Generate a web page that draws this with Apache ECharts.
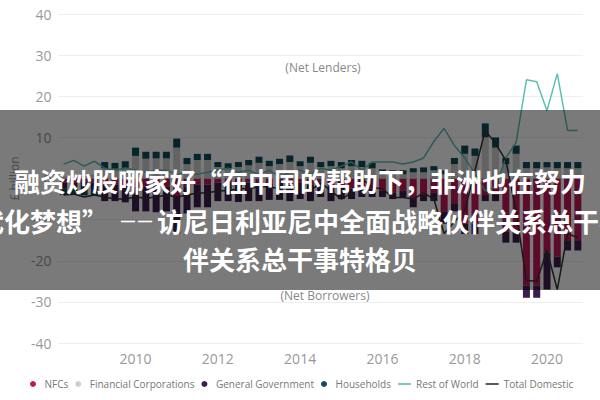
<!DOCTYPE html>
<html><head><meta charset="utf-8">
<script src="https://cdn.jsdelivr.net/npm/echarts@6/dist/echarts.min.js"></script>
<style>
html,body{margin:0;padding:0;background:#fff;}
#wrap{position:relative;width:600px;height:400px;overflow:hidden;}
#c{width:600px;height:400px;}
#ov{position:absolute;left:0;top:110px;width:600px;height:180px;background:rgba(0,0,0,0.52);}
.t{position:absolute;white-space:nowrap;color:#fff;font:bold 26px/26px "Noto Sans CJK SC","Noto Sans",sans-serif;}
</style>
</head><body>
<div id="wrap">
<div id="c"></div>
<div id="ov">
  <div class="t" style="left:0;width:600px;text-align:center;top:58px;">融资炒股哪家好“在中国的帮助下，非洲也在努力</div>
  <div class="t" style="right:492px;top:98px;">代化梦想”</div>
  <div class="t" style="left:121px;top:98px;font-size:14px;letter-spacing:3px;font-family:'Liberation Sans',sans-serif;">——</div>
  <div class="t" style="left:157px;top:98px;">访尼日利亚尼中全面战略伙伴关系总干事</div>
  <div class="t" style="left:0;width:600px;text-align:center;top:136px;">伴关系总干事特格贝</div>
</div>
</div>
<script>
const quarters = [
 '2008Q2','2008Q3','2008Q4',
 '2009Q1','2009Q2','2009Q3','2009Q4',
 '2010Q1','2010Q2','2010Q3','2010Q4',
 '2011Q1','2011Q2','2011Q3','2011Q4',
 '2012Q1','2012Q2','2012Q3','2012Q4',
 '2013Q1','2013Q2','2013Q3','2013Q4',
 '2014Q1','2014Q2','2014Q3','2014Q4',
 '2015Q1','2015Q2','2015Q3','2015Q4',
 '2016Q1','2016Q2','2016Q3','2016Q4',
 '2017Q1','2017Q2','2017Q3','2017Q4',
 '2018Q1','2018Q2','2018Q3','2018Q4',
 '2019Q1','2019Q2','2019Q3','2019Q4',
 '2020Q1','2020Q2','2020Q3','2020Q4'
];
const xTickLabels = ['2010','2012','2014','2016','2018','2020'];
const yTicks = [-40,-30,-20,-10,0,10,20,30,40];

const nfcs = [-1.0,-1.0,-0.8, -1.0,-1.5,-1.5,-1.8, -2.0,-2.0,-2.2,-2.0, -4.4,-2.0,-1.5,-1.5,
 -1.0,-1.0,-1.2,-1.0, -1.5,-1.2,-1.0,-1.5, -1.0,-1.5,-1.0,-2.0, -2.0,-2.5,-2.0,-2.5,
 -3.0,-3.5,-3.0,-5.0, -4.0,-3.5,-8.0,-6.0, -11.0,-11.0,-4.0,-4.0, -13.0,-13.0,-26.0,-26.0,
 -18.0,-19.0,-15.0,-15.0];
const financialCorps = [0.5,0.5,0.6, 1.0,2.5,2.4,2.6, 5.5,4.8,4.9,4.9, 7.5,3.5,4.5,4.5,
 2.8,2.5,2.8,3.2, 3.8,3.0,3.5,4.0, 3.0,3.8,2.8,3.0, 2.5,3.0,2.8,2.5,
 1.2,1.0,1.0,1.5, 1.5,2.0,1.0,3.5, 6.0,5.5,10.0,7.5, 3.5,6.0,2.5,2.5,
 2.7,2.5,2.5,2.5];
const generalGov = [-1.5,-1.5,-1.5, -2.0,-4.0,-4.0,-4.0, -6.0,-6.0,-6.0,-6.0, -9.0,-6.5,-5.5,-5.5,
 -4.5,-4.5,-4.5,-4.5, -4.0,-4.0,-4.2,-4.0, -4.0,-4.0,-3.5,-3.5, -3.0,-2.5,-2.5,-2.0,
 -1.5,-1.5,-1.5,-2.0, -1.5,-2.0,-3.0,-2.0, -2.5,-2.5,-1.5,-1.5, -2.6,-2.6,-3.0,-3.0,
 -9.0,-2.6,-2.5,-2.5];
const households = [-1.5,-1.5,-1.8, -1.0,1.5,1.4,1.6, 2.0,1.7,1.6,1.6, 2.2,1.5,1.5,1.5,
 1.2,1.2,1.2,1.3, 1.5,1.3,1.3,1.6, 1.2,1.5,1.2,1.3, 1.5,1.5,1.5,1.3,
 1.0,1.0,1.0,1.0, 1.2,1.0,1.0,1.5, 2.0,1.8,3.4,2.5, 1.5,2.0,1.5,1.5,
 1.3,1.5,1.5,1.5];
const restOfWorld = [3.5,4.4,3.0, 4.2,2.5,2.0,2.5, 2.0,1.5,2.0,2.0, 1.0,1.5,1.0,1.5,
 2.0,2.5,1.5,2.0, 1.0,2.0,0.5,1.5, 2.0,1.0,2.5,2.0, 3.0,4.0,2.0,4.0,
 4.0,4.0,3.5,4.0, 5.0,9.0,12.2,8.0, 5.0,1.2,-3.0,-2.0, 5.0,8.8,24.0,23.5,
 16.5,25.5,11.7,11.7];
const totalDomestic = [-4.0,-3.8,-4.5, -4.0,-4.5,-5.0,-5.0, -4.5,-4.8,-4.5,-4.0, -4.5,-4.0,-3.5,-3.5,
 -3.0,-3.0,-2.5,-2.5, -2.0,-2.0,-2.5,-2.0, -2.5,-3.0,-1.0,-3.0, -5.0,-3.5,0.0,-2.2,
 -2.5,-4.6,-4.6,-5.0, -3.5,-5.0,-13.4,-10.5, -7.8,2.0,11.7,8.5, 4.4,-8.0,-24.8,-25.0,
 -17.5,-27.0,-13.4,-14.4];

const colNFC = '#c2185b', colFC = '#cfcfcf', colGG = '#3b1e4f', colHH = '#0f4d5a';
const colROW = '#5dbfb4', colTD = '#333333';
const lineIcon = 'path://M0,0H24V3H0Z';

const chart = echarts.init(document.getElementById('c'), null, {renderer:'svg'});
const barBase = {type:'bar', stack:'total', barWidth:'68%'};
chart.setOption({
  animation:false,
  grid:{left:55,right:17,top:14,bottom:57},
  legend:{
    left:30, top:379, itemGap:7, itemWidth:13, itemHeight:6, padding:0,
    textStyle:{fontSize:10,color:'#777',fontFamily:'Open Sans'},
    data:[
      {name:'NFCs',icon:'circle'},
      {name:'Financial Corporations',icon:'circle'},
      {name:'General Government',icon:'circle'},
      {name:'Households',icon:'circle'},
      {name:'Rest of World',icon:lineIcon},
      {name:'Total Domestic',icon:lineIcon}
    ]
  },
  xAxis:{
    type:'category', data:quarters,
    axisLine:{show:false}, axisTick:{show:false},
    axisLabel:{
      color:'#999', fontSize:14, fontFamily:'Open Sans', margin:8,
      interval:(idx,val)=> val.endsWith('Q1') && xTickLabels.includes(val.slice(0,4)),
      formatter:(val)=> val.slice(0,4)
    }
  },
  yAxis:{
    type:'value', min:yTicks[0], max:yTicks[yTicks.length-1], interval:10,
    splitLine:{lineStyle:{color:'#eeeeee'}},
    axisLabel:{color:'#999',fontSize:14,fontFamily:'Open Sans',margin:7},
    name:'£ billion', nameLocation:'middle', nameGap:38,
    nameTextStyle:{color:'#999',fontSize:12,fontFamily:'Open Sans'}
  },
  graphic:[
    {type:'text', x:323, y:67, z:50, style:{text:'(Net Lenders)', fill:'#888', font:'12px "Open Sans"', textAlign:'center', textVerticalAlign:'middle'}},
    {type:'text', x:325, y:295, z:50, style:{text:'(Net Borrowers)', fill:'#888', font:'12px "Open Sans"', textAlign:'center', textVerticalAlign:'middle'}}
  ],
  series:[
    Object.assign({name:'NFCs', data:nfcs, itemStyle:{color:colNFC}}, barBase),
    Object.assign({name:'Financial Corporations', data:financialCorps, itemStyle:{color:colFC}}, barBase),
    Object.assign({name:'General Government', data:generalGov, itemStyle:{color:colGG}}, barBase),
    Object.assign({name:'Households', data:households, itemStyle:{color:colHH}}, barBase),
    {name:'Rest of World', type:'line', data:restOfWorld, showSymbol:false, symbol:'none', lineStyle:{color:colROW,width:1.5}, itemStyle:{color:colROW}, z:5},
    {name:'Total Domestic', type:'line', data:totalDomestic, showSymbol:false, symbol:'none', lineStyle:{color:colTD,width:1.5}, itemStyle:{color:colTD}, z:5}
  ]
});
</script>
</body></html>
